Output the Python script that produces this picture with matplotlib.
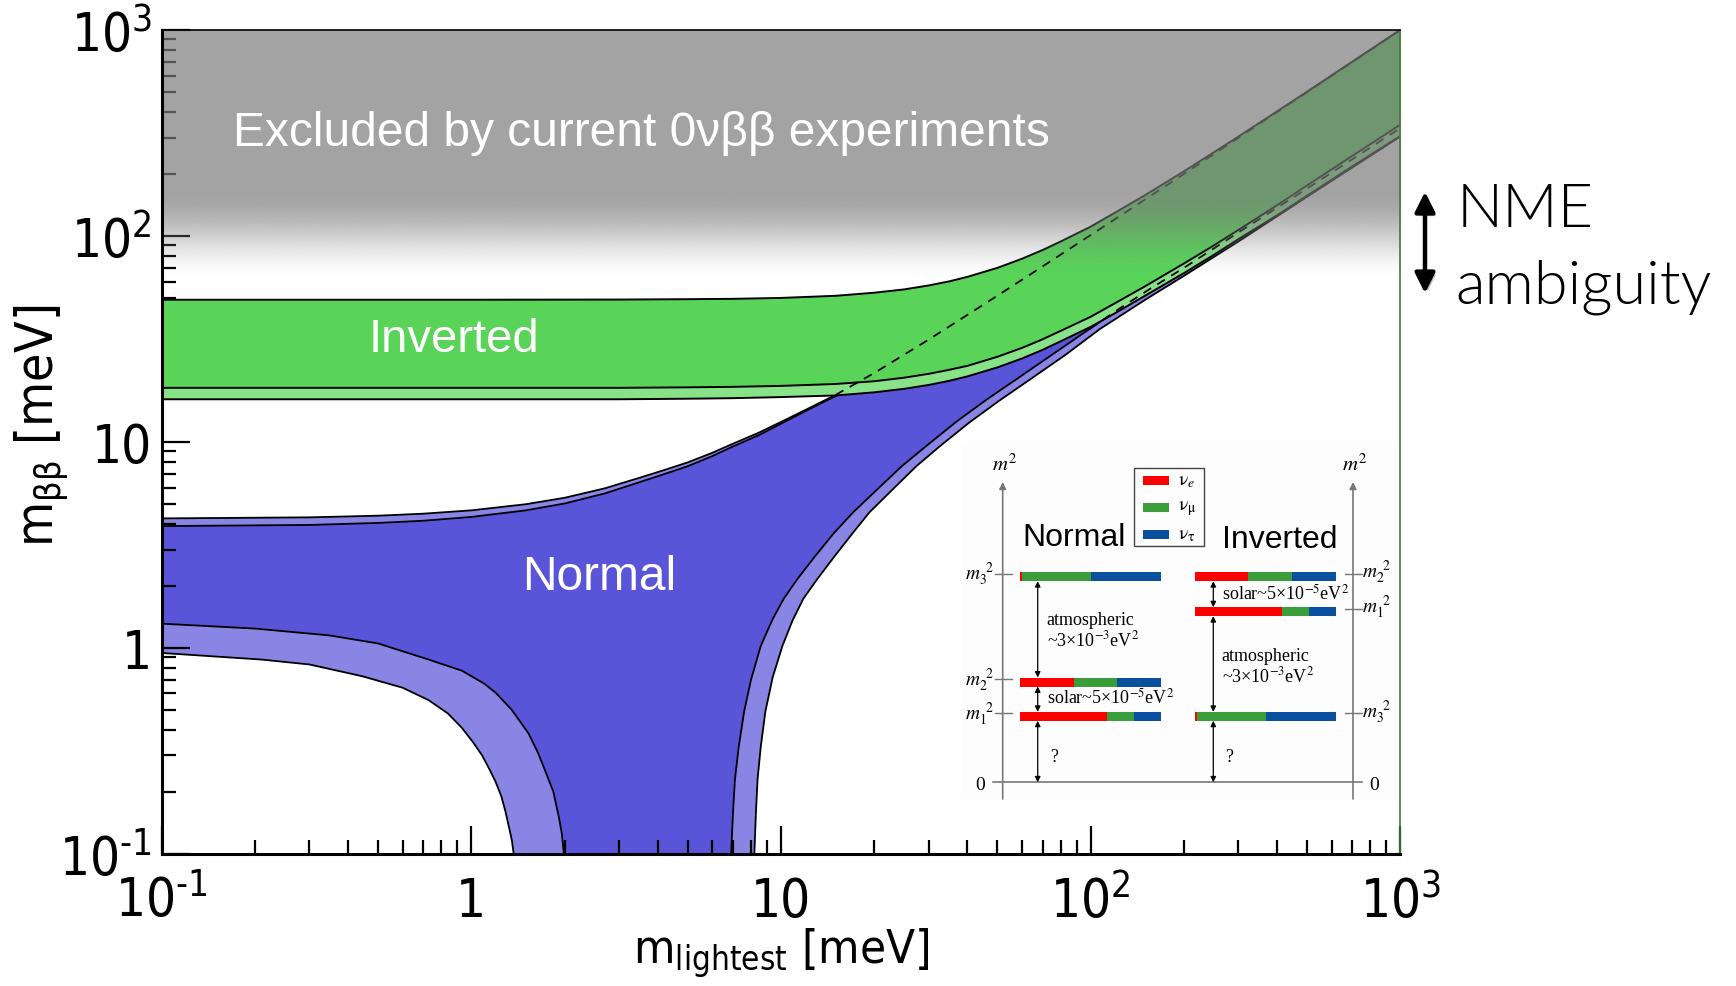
import numpy as np
import matplotlib
matplotlib.use("Agg")
import matplotlib.pyplot as plt
from matplotlib import font_manager
from matplotlib.font_manager import FontProperties
from matplotlib.patches import FancyArrowPatch, Rectangle
from matplotlib.ticker import FixedLocator, NullFormatter, LogLocator
import matplotlib.patheffects as pe


def condensed_font():
    fl = font_manager.fontManager.ttflist
    for f in fl:
        if f.name == 'Liberation Sans Narrow' and f.style == 'normal' and f.weight in (400, 'normal', 'regular'):
            return f.fname
    for fam in ('DejaVu Sans', 'Noto Sans', 'Open Sans', 'Roboto'):
        for f in fl:
            if (f.name == fam and f.style == 'normal' and f.weight in (400, 'normal', 'regular')
                    and f.stretch in ('condensed', 'semi-condensed', 'extra-condensed', 500, 625, 750)):
                return f.fname
    return None


fn = condensed_font()
if fn:
    def cfont(size):
        return FontProperties(fname=fn, size=size)
else:
    def cfont(size):
        return FontProperties(family='Liberation Sans', size=size)

# ---- inverted ordering band (m_lightest [meV] -> m_bb [meV])
ih_x = [0.1, 1, 3, 5, 7, 10, 15, 20, 25, 30, 35, 40, 50, 60, 70, 80, 100, 120, 150, 200, 250, 300, 400, 500, 700, 1000]
ih_upper = [49, 49, 49.1, 49.3, 49.5, 50, 51.2, 53, 55, 57.5, 60.2, 63.3, 70, 77.5, 85.5, 94, 111, 130, 158, 206, 255, 304, 403, 502, 702, 1001]
ih_lower = [18.3, 18.3, 18.3, 18.4, 18.5, 18.7, 19.1, 19.7, 20.5, 21.4, 22.4, 23.4, 25.9, 28.6, 31.5, 34.6, 40.5, 47.2, 57, 73.5, 90, 107, 141, 176, 245, 347]
ih_lower_3s = [16.1, 16.1, 16.1, 16.2, 16.3, 16.5, 16.8, 17.4, 18.1, 18.9, 19.8, 20.8, 23.0, 25.4, 28.0, 30.8, 36.2, 42.2, 51.3, 66.0, 81, 96.5, 126, 157, 218, 306]

# ---- normal ordering band
nh_x = [0.1, 0.3, 0.5, 0.7, 1, 1.5, 2, 2.7, 3.5, 4.2, 5, 6, 7, 8.5, 10, 12, 15, 20, 30, 50, 70, 100, 150, 200, 300, 500, 1000]
nh_upper_3s = [4.25, 4.3, 4.38, 4.48, 4.65, 4.98, 5.35, 5.95, 6.7, 7.3, 7.95, 8.85, 9.8, 11.1, 12.5, 14.3, 16.9, 21.6, 31.4, 51.3, 71.2, 101, 150.5, 200, 300, 500, 1000]
nh_upper = [3.9, 3.95, 4.04, 4.14, 4.32, 4.65, 5.02, 5.62, 6.38, 6.98, 7.62, 8.53, 9.5, 10.8, 12.25, 14.1, 16.7, 21.4, 31.2, 51.1, 71, 100.8, 150.3, 199.8, 299.8, 499.8, 999.8]

# lower edge, before the cancellation region
nh_left_x = [0.1, 0.2, 0.346, 0.5, 0.728, 0.933, 1.1, 1.2, 1.35, 1.53, 1.64, 1.73, 1.84, 1.92, 1.96, 1.99]
nh_left_y = [1.31, 1.24, 1.15, 1.05, 0.877, 0.774, 0.67, 0.604, 0.5, 0.384, 0.31, 0.254, 0.2, 0.149, 0.125, 0.1]
nh_left_x_3s = [0.1, 0.21, 0.3, 0.444, 0.6, 0.728, 0.84, 0.933, 1.01, 1.084, 1.14, 1.197, 1.25, 1.288, 1.33, 1.352, 1.37]
nh_left_y_3s = [0.944, 0.877, 0.83, 0.728, 0.64, 0.557, 0.48, 0.408, 0.35, 0.300, 0.26, 0.224, 0.19, 0.161, 0.13, 0.116, 0.1]

# lower edge, after the cancellation region
nh_right_x = [6.9, 7.0, 7.1, 7.3, 7.6, 8.0, 8.6, 9.4, 10.2, 11.3, 12.8, 14.8, 17.1, 20.5, 24.5, 29.5, 37, 46, 57.7, 75, 99, 125, 155, 200, 300, 500, 700, 1000]
nh_right_y = [0.1, 0.16, 0.23, 0.33, 0.49, 0.7, 1.02, 1.38, 1.73, 2.16, 2.75, 3.6, 4.55, 5.9, 7.6, 9.57, 12.6, 16, 20.2, 26.5, 35.3, 44.8, 55.2, 70, 104, 170, 236, 334]
nh_right_x_3s = [8.2, 8.3, 8.4, 8.6, 8.9, 9.4, 10.1, 10.9, 11.8, 13.1, 14.8, 16.9, 19.3, 23, 27.3, 32.7, 40.5, 50.5, 64, 83, 107, 150, 200, 300, 500, 700, 1000]
nh_right_y_3s = [0.1, 0.16, 0.23, 0.33, 0.49, 0.72, 1.02, 1.36, 1.73, 2.16, 2.75, 3.55, 4.55, 5.9, 7.6, 9.57, 12.4, 15.8, 20.2, 26.5, 35.3, 49, 64, 94, 155, 215, 304]

major_ticks = [0.1, 1, 10, 100, 1000]
tick_labels = [r'$\mathregular{10^{‐1}}$', '1', '10', r'$\mathregular{10^{2}}$', r'$\mathregular{10^{3}}$']

# flavour content of the mass states (nu_e, nu_mu, nu_tau)
nu_colors = ['#ff0000', '#3a9d3a', '#0b4f9f']
normal_states = ['3', '2', '1']
normal_mix = [[0.012, 0.488, 0.50], [0.38, 0.31, 0.31], [0.62, 0.19, 0.19]]
inverted_states = ['2', '1', '3']
inverted_mix = [[0.374, 0.313, 0.313], [0.62, 0.19, 0.19], [0.012, 0.488, 0.50]]

GREEN, GREEN_LT = '#59d459', '#88e388'
BLUE, BLUE_LT = '#5954d8', '#8985e4'

fig = plt.figure(figsize=(17.36, 9.87), dpi=100)
ax = fig.add_axes([0.0931, 0.134, 0.7136, 0.8346])
ax.set_xscale('log')
ax.set_yscale('log')


def band(xu, yu, xl, yl, color, z):
    ax.fill(list(xu) + list(xl)[::-1], list(yu) + list(yl)[::-1],
            color=color, lw=0, zorder=z)


# normal
band(nh_x, nh_upper_3s, nh_left_x_3s + nh_right_x_3s, nh_left_y_3s + nh_right_y_3s, BLUE_LT, 1.0)
band(nh_x, nh_upper, nh_left_x + nh_right_x, nh_left_y + nh_right_y, BLUE, 1.1)
for xs, ys in [(nh_x, nh_upper_3s), (nh_x, nh_upper), (nh_left_x, nh_left_y),
               (nh_left_x_3s, nh_left_y_3s), (nh_right_x, nh_right_y),
               (nh_right_x_3s, nh_right_y_3s)]:
    ax.plot(xs, ys, color='k', lw=1.3, zorder=1.2)

# inverted
band(ih_x, ih_upper, ih_x, ih_lower_3s, GREEN_LT, 1.5)
band(ih_x, ih_upper, ih_x, ih_lower, GREEN, 1.6)
for ys in [ih_upper, ih_lower, ih_lower_3s]:
    ax.plot(ih_x, ys, color='k', lw=1.4, zorder=1.7)

# normal-ordering edges hidden under the inverted band
i0 = nh_x.index(15)
ax.plot(nh_x[i0:], nh_upper_3s[i0:], color='k', lw=1.3, ls=(0, (5, 4)), zorder=1.8)
j0 = nh_right_x.index(99)
ax.plot(nh_right_x[j0:], nh_right_y[j0:], color='k', lw=1.3, ls=(0, (5, 4)), zorder=1.8)

# excluded region, fading out towards ~70 meV
frac = np.linspace(0, 1, 600)
t = np.clip((frac - 0.697) / 0.105, 0, 1)
alpha = 0.69 * t * t * (3 - 2 * t)
rgba = np.zeros((600, 1, 4))
rgba[..., :3] = 122 / 255
rgba[..., 3] = alpha[:, None]
ax.imshow(rgba, extent=[0, 1, 0, 1], origin='lower', transform=ax.transAxes,
          aspect='auto', interpolation='bilinear', zorder=2.2)

ax.set_xlim(0.1, 1000)
ax.set_ylim(0.1, 1000)

for axis in (ax.xaxis, ax.yaxis):
    axis.set_major_locator(FixedLocator(major_ticks))
    axis.set_minor_locator(LogLocator(subs=np.arange(2, 10)))
    axis.set_minor_formatter(NullFormatter())
ax.set_xticklabels(tick_labels)
ax.set_yticklabels(tick_labels)
for lab in ax.get_xticklabels() + ax.get_yticklabels():
    lab.set_fontproperties(cfont(38))
ax.tick_params(which='both', direction='in', top=False, right=False, width=1.6, color='k')
ax.tick_params(which='major', length=20)
ax.tick_params(which='minor', length=10)
ax.tick_params(axis='x', which='major', pad=15)
ax.tick_params(axis='y', which='major', pad=7)
for s in ('left', 'bottom'):
    ax.spines[s].set_linewidth(2.2)
ax.spines['top'].set_linewidth(1.2)
ax.spines['right'].set_linewidth(1.2)
ax.spines['right'].set_color('#3d7a3d')

ax.set_xlabel(r'$\mathregular{m_{lightest}}$ [meV]', fontproperties=cfont(34))
ax.xaxis.set_label_coords(0.5, -0.087)
ax.set_ylabel(r'$\mathregular{m_{\beta\beta}}$ [meV]', fontproperties=cfont(37))
ax.yaxis.set_label_coords(-0.074, 0.52)

ax.text(0.387, 0.875, 'Excluded by current 0νββ experiments', transform=ax.transAxes,
        ha='center', va='center', color='white', fontsize=34.5,
        fontfamily='Liberation Sans', zorder=4)
ax.text(0.88, 31.6, 'Inverted', ha='center', va='center', color='white',
        fontsize=34, fontfamily='Liberation Sans', zorder=4)
ax.text(2.58, 2.23, 'Normal', ha='center', va='center', color='white',
        fontsize=34.5, fontfamily='Liberation Sans', zorder=4)

# NME ambiguity marker on the right
arr = FancyArrowPatch((1425 / 1736, 1 - 190 / 987), (1425 / 1736, 1 - 297 / 987),
                      transform=fig.transFigure, arrowstyle='<|-|>', mutation_scale=30,
                      lw=3.2, color='k',
                      path_effects=[pe.SimplePatchShadow(offset=(2, -2), alpha=0.25), pe.Normal()])
fig.add_artist(arr)
fig.text(1457 / 1736, 1 - 227 / 987, 'NME', fontsize=44, fontfamily='Lato',
         fontweight=300, va='baseline', ha='left')
fig.text(1455 / 1736, 1 - 304 / 987, 'ambiguity', fontsize=44, fontfamily='Lato',
         fontweight=300, va='baseline', ha='left')

# ---- mass ordering sketch
ins = fig.add_axes([961 / 1736, 1 - 800 / 987, 436 / 1736, 357 / 987])
ins.set_xlim(0, 436)
ins.set_ylim(357, 0)
ins.axis('off')
ins.add_patch(Rectangle((0, 0), 436, 357, color='#fdfdfd', lw=0, zorder=0))

serif = dict(fontfamily='Liberation Serif', math_fontfamily='stix')
grey = '#777777'
for xa in (41.7, 392):
    ins.annotate('', xy=(xa, 40), xytext=(xa, 357),
                 arrowprops=dict(arrowstyle='-|>', color=grey, lw=1.2, mutation_scale=10,
                                 shrinkA=0, shrinkB=0))
    ins.text(xa + 2, 22, r'$m^2$', ha='center', va='center', fontsize=15, **serif)
ins.plot([32, 401], [340.3, 340.3], color=grey, lw=1.2)
ins.text(19, 343, '0', ha='center', va='center', fontsize=14, **serif)
ins.text(413, 343, '0', ha='center', va='center', fontsize=14, **serif)


def levels(x0, ys, mix, states, tick_x, label_x, ha, label_dy):
    for y, fr, st in zip(ys, mix, states):
        left = x0
        for f, c in zip(fr, nu_colors):
            ins.barh(y, 141 * f, left=left, height=9, color=c, lw=0)
            left += 141 * f
        ins.plot(tick_x, [y - 3, y - 3], color=grey, lw=1)
        ins.text(label_x, y - 3 + label_dy, r'$m_%s^{\ \,2}$' % st, ha=ha, va='center',
                 fontsize=14, **serif)


levels(59, [134.7, 240, 274.3], normal_mix, normal_states, [34, 51], 33, 'right', 0)
levels(234, [134.7, 169.7, 274.3], inverted_mix, inverted_states, [384, 401], 401, 'left', -2)


def gap(x, y0, y1):
    ins.annotate('', xy=(x, y1), xytext=(x, y0),
                 arrowprops=dict(arrowstyle='<|-|>', color='k', lw=0.9, mutation_scale=8,
                                 shrinkA=0, shrinkB=0))


for y0, y1 in [(139.2, 235.5), (244.5, 269.8), (278.8, 340.3)]:
    gap(76.7, y0, y1)
for y0, y1 in [(139.2, 165.2), (174.2, 269.8), (278.8, 340.3)]:
    gap(252.3, y0, y1)

atm = 'atmospheric\n~3×10$^{-3}$eV$^2$'
sol = 'solar~5×10$^{-5}$eV$^2$'
ins.text(85.7, 188, atm, ha='left', va='center', fontsize=13, linespacing=1.1, **serif)
ins.text(85.7, 255, sol, ha='left', va='center', fontsize=13, **serif)
ins.text(89, 315, '?', ha='left', va='center', fontsize=13, **serif)
ins.text(260.7, 224, atm, ha='left', va='center', fontsize=13, linespacing=1.1, **serif)
ins.text(260.7, 151, sol, ha='left', va='center', fontsize=13, **serif)
ins.text(264, 315, '?', ha='left', va='center', fontsize=13, **serif)

ins.text(113.5, 95, 'Normal', ha='center', va='center', fontsize=23, fontfamily='Liberation Sans')
ins.text(319, 97, 'Inverted', ha='center', va='center', fontsize=23, fontfamily='Liberation Sans')

ins.add_patch(Rectangle((173.3, 26), 70, 78.3, fill=False, ec='#444444', lw=1))
for yy, c, lab in zip([38.7, 65.3, 92], nu_colors,
                      [r'$\mathrm{\nu}_e$', r'$\mathrm{\nu}_{\mathrm{\mu}}$', r'$\mathrm{\nu}_{\mathrm{\tau}}$']):
    ins.add_patch(Rectangle((182.3, yy - 4.5), 25.7, 9, color=c, lw=0))
    ins.text(217.3, yy, lab, ha='left', va='center', fontsize=14, **serif)

fig.savefig('out.png', dpi=100)
